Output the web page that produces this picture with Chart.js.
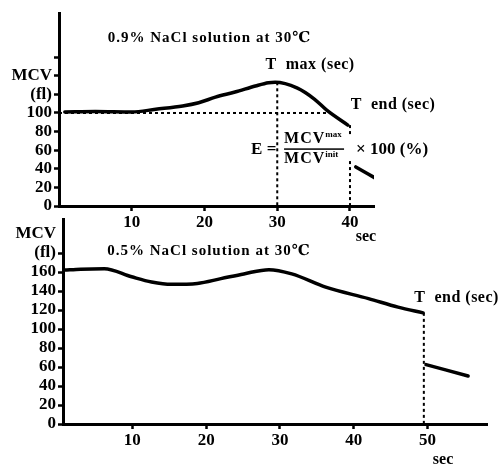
<!DOCTYPE html>
<html>
<head>
<meta charset="utf-8">
<script src="https://cdn.jsdelivr.net/npm/chart.js@4.4.1/dist/chart.umd.min.js"></script>
<style>
	body { margin: 0; background: #fff; }
	#wrap { position: relative; width: 499px; height: 465px; }
	canvas { position: absolute; left: 0; }
	#topChart { top: 0; }
	#botChart { top: 205px; }
</style>
</head>
<body>
<div id="wrap">
	<canvas id="topChart" width="499" height="245"></canvas>
	<canvas id="botChart" width="499" height="260"></canvas>
</div>
<script>

// 0.9% NaCl
var topX = [0.8, 5, 10, 13.3, 17, 19.2, 21.5, 24.2, 27, 28.8, 29.7, 32.7, 35.1, 36.8, 39.7];
var topMCV = [101, 101.5, 101, 104, 107.5, 111, 117, 122.5, 129, 132.5, 133, 127, 115, 103, 87];
var topTailX = [40.8, 43.7];
var topTailMCV = [42, 29];
var topInit = 100;
var topTmax = 30;
var topTend = 40;
var topXTicks = [10, 20, 30, 40];
var topYTicks = [0, 20, 40, 60, 80, 100, 120, 140, 160];
var topYLabels = ['0', '20', '40', '60', '80', '100', '(fl)', 'MCV', ''];

// 0.5% NaCl
var botX = [0.8, 3, 6.2, 9.9, 12.6, 15.3, 18.8, 22, 25.1, 28.5, 31.6, 36.2, 42, 46, 49.4];
var botMCV = [162, 163, 163.5, 155, 149.5, 147, 148, 153, 158, 162.5, 158, 144, 132, 123, 117];
var botTailX = [49.8, 55.5];
var botTailMCV = [62.5, 50.5];
var botTend = 49.5;
var botXTicks = [10, 20, 30, 40, 50];
var botYTicks = [0, 20, 40, 60, 80, 100, 120, 140, 160, 180, 200];
var botYLabels = ['0', '20', '40', '60', '80', '100', '120', '140', '160', '(fl)', 'MCV'];

var serif = '"Liberation Serif", "DejaVu Serif", serif';

function pts(xs, ys) {
	return xs.map(function (x, i) { return { x: x, y: ys[i] }; });
}

function curve(data) {
	return { data: data, borderColor: '#000', borderWidth: 3.5, pointRadius: 0,
		tension: 0.4, cubicInterpolationMode: 'monotone', borderCapStyle: 'round' };
}

function guide(data) {
	return { data: data, borderColor: '#000', borderWidth: 2, pointRadius: 0,
		borderDash: [3, 3], tension: 0 };
}

var textPlugin = {
	id: 'texts',
	afterDraw: function (chart, args, opts) {
		var ctx = chart.ctx;
		var xs = chart.scales.x, ys = chart.scales.y;
		ctx.save();
		ctx.fillStyle = '#000';
		ctx.textBaseline = 'middle';
		if (opts.formula) {
			var f = opts.formula;
			var px = xs.getPixelForValue(f.x), py = ys.getPixelForValue(f.y);
			var lx = xs.getPixelForValue(f.lineX);
			ctx.fillStyle = '#fff';
			ctx.fillRect(lx - 3, py - 12, 6, 24);
			ctx.fillStyle = '#000';
			ctx.textAlign = 'left';
			ctx.font = 'bold 17px ' + serif;
			ctx.fillText('E =', px, py + 1);
			var fx = px + 33;
			ctx.font = 'bold 16px ' + serif;
			ctx.letterSpacing = '1px';
			var w = ctx.measureText('MCV').width;
			ctx.fillText('MCV', fx, py - 9);
			ctx.fillText('MCV', fx, py + 11);
			ctx.letterSpacing = '0px';
			ctx.font = 'bold 9px ' + serif;
			ctx.fillText('max', fx + w, py - 14);
			ctx.fillText('init', fx + w, py + 6);
			ctx.fillRect(fx, py, 60, 1.5);
			ctx.font = 'bold 17px ' + serif;
			ctx.fillText('\u00d7 100 (%)', fx + 72, py + 1);
		}
		opts.items.forEach(function (t) {
			ctx.font = t.font;
			ctx.letterSpacing = t.spacing || '0px';
			ctx.textAlign = t.align || 'left';
			ctx.fillText(t.text, xs.getPixelForValue(t.x), ys.getPixelForValue(t.y));
		});
		ctx.restore();
	}
};

function makeOptions(xmin, xmax, ymax, xTicks, yTicks, yLabels, yWidth, xHeight, pad, hideTick, texts, formula) {
	var tickFont = { family: serif, size: 17, weight: 'bold' };
	return {
		responsive: false,
		animation: false,
		layout: { padding: pad },
		plugins: {
			legend: { display: false },
			tooltip: { enabled: false },
			texts: { items: texts, formula: formula }
		},
		scales: {
			x: {
				type: 'linear', min: xmin, max: xmax,
				afterBuildTicks: function (s) { s.ticks = xTicks.map(function (v) { return { value: v }; }); },
				afterFit: function (s) { s.height = xHeight; },
				grid: { drawOnChartArea: false, tickLength: 5, tickWidth: 2.5, tickColor: '#000' },
				border: { display: true, color: '#000', width: 3 },
				ticks: { color: '#000', font: tickFont, padding: 1, maxRotation: 0, autoSkip: false }
			},
			y: {
				min: 0, max: ymax,
				afterBuildTicks: function (s) { s.ticks = yTicks.map(function (v) { return { value: v }; }); },
				afterFit: function (s) { s.width = yWidth; },
				grid: {
					drawOnChartArea: false, tickLength: 5, tickWidth: 2.5,
					tickColor: function (c) { return c.tick && c.tick.value === hideTick ? 'rgba(0,0,0,0)' : '#000'; }
				},
				border: { display: true, color: '#000', width: 3 },
				ticks: {
					color: '#000', font: tickFont, padding: 2, autoSkip: false,
					callback: function (v) { var i = yTicks.indexOf(v); return i < 0 ? '' : yLabels[i]; }
				}
			}
		}
	};
}

// top chart guides
var peakI = topMCV.indexOf(Math.max.apply(null, topMCV));
var crossI = peakI;
while (crossI < topMCV.length - 1 && topMCV[crossI] > topInit + 5) crossI++;
var topGuides = [
	guide([{ x: 0, y: topInit }, { x: topX[crossI], y: topInit }]),
	guide([{ x: topTmax, y: topMCV[peakI] }, { x: topTmax, y: 0 }]),
	guide([{ x: topTend, y: topMCV[topMCV.length - 1] }, { x: topTend, y: 0 }])
];

var titleFont = 'bold 15px ' + serif;
var labelFont = 'bold 16px ' + serif;

new Chart(document.getElementById('topChart'), {
	type: 'line',
	data: { datasets: topGuides.concat([curve(pts(topX, topMCV)), curve(pts(topTailX, topTailMCV))]) },
	options: makeOptions(0, 43.3, 207.5, topXTicks, topYTicks, topYLabels, 59, 39,
		{ top: 13, right: 125, left: 0, bottom: 0 }, null,
		[
			{ text: '0.9% NaCl solution at 30\u2103', x: 6.7, y: 180.6, font: titleFont, spacing: '1px' },
			{ text: 'T  max (sec)', x: 28.4, y: 151.6, font: labelFont, spacing: '0.5px' },
			{ text: 'T  end (sec)', x: 40.1, y: 108.6, font: labelFont, spacing: '0.5px' },
			{ text: 'sec', x: 42.2, y: -33, font: labelFont, align: 'center' }
		],
		{ x: 26.4, y: 62, lineX: topTend }),
	plugins: [textPlugin]
});

var botGuides = [
	guide([{ x: botTend, y: botMCV[botMCV.length - 1] }, { x: botTend, y: 0 }])
];

new Chart(document.getElementById('botChart'), {
	type: 'line',
	data: { datasets: botGuides.concat([curve(pts(botX, botMCV)), curve(pts(botTailX, botTailMCV))]) },
	options: makeOptions(0.6, 58.06, 215.8, botXTicks, botYTicks, botYLabels, 63, 41,
		{ top: 14, right: 12, left: 0, bottom: 0 }, 200,
		[
			{ text: '0.5% NaCl solution at 30\u2103', x: 6.6, y: 182, font: titleFont, spacing: '1px' },
			{ text: 'T  end (sec)', x: 48.2, y: 132.6, font: labelFont, spacing: '0.5px' },
			{ text: 'sec', x: 52.1, y: -38, font: labelFont, align: 'center' }
		],
		null),
	plugins: [textPlugin]
});
</script>
</body>
</html>
